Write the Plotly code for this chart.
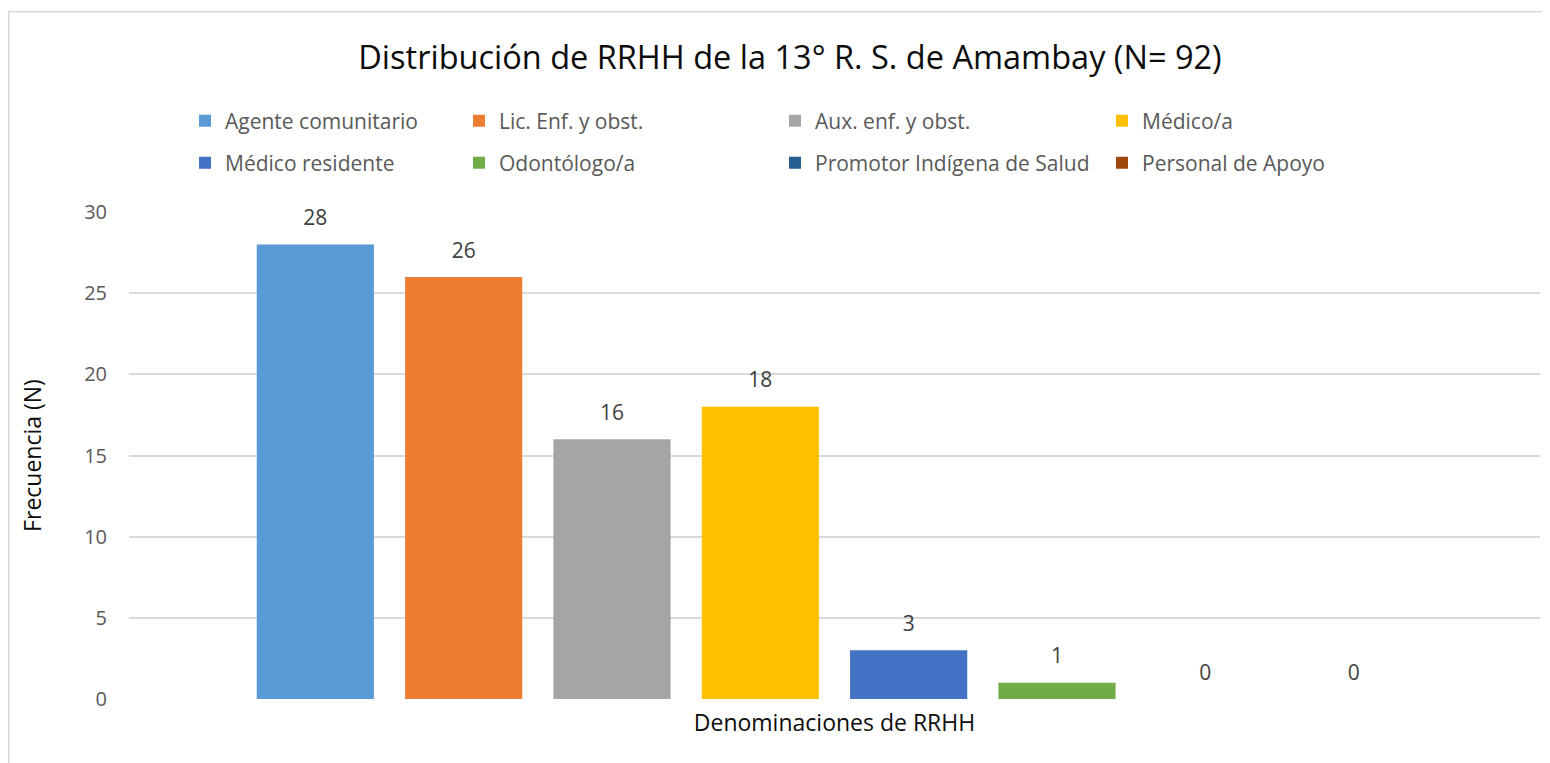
import plotly.graph_objects as go

# ---- data ----
series_names = ["Agente comunitario", "Lic. Enf. y obst.", "Aux. enf. y obst.", "Médico/a",
                "Médico residente", "Odontólogo/a", "Promotor Indígena de Salud", "Personal de Apoyo"]
series_values = [28, 26, 16, 18, 3, 1, 0, 0]
series_colors = ["#5B9BD5", "#ED7D31", "#A5A5A5", "#FFC000",
                 "#4472C4", "#70AD47", "#255E91", "#9E480E"]
category = ["Denominaciones de RRHH"]
y_ticks = [0, 5, 10, 15, 20, 25, 30]
legend_widths = [229, 271, 282, 220]

title_text = "Distribución de RRHH de la 13° R. S. de Amambay (N= 92)"
x_title = "Denominaciones de RRHH"
y_title = "Frecuencia (N)"

FONT = "Open Sans"
OFF = 8  # page body margin
W, H = 1550 - OFF, 763 - OFF
# plot area in page pixels: x 129..1540, y 212..699
ML = 129 - OFF
MR = W - (1540 - OFF)
MT = 212 - OFF
MB = H - (699 - OFF)

fig = go.Figure()
for i, (name, val, col) in enumerate(zip(series_names, series_values, series_colors)):
    fig.add_trace(go.Bar(
        x=category, y=[val], name=name,
        marker=dict(color=col, line=dict(width=0)),
        legend="legend" if i < 4 else "legend2",
        legendwidth=legend_widths[i % 4],
        hoverinfo="name+y",
    ))
for i, (name, val) in enumerate(zip(series_names, series_values)):
    fig.add_trace(go.Scatter(
        x=category, y=[val], mode="markers+text", text=[str(val)],
        textposition="top center",
        textfont=dict(family=FONT, size=21, color="#404040"),
        marker=dict(size=21, color="rgba(0,0,0,0)"),
        showlegend=False, hoverinfo="skip", cliponaxis=False,
    ))

pw = W - ML - MR
ph = H - MT - MB


def px_x(page_px):
    return (page_px - OFF - ML) / pw


def px_y(page_py):
    return (H - MB - (page_py - OFF)) / ph


leg_font = dict(family=FONT, size=21, color="#595959")
fig.update_layout(
    width=W, height=H,
    margin=dict(l=ML, r=MR, t=MT, b=MB, autoexpand=False),
    paper_bgcolor="white", plot_bgcolor="white",
    font=dict(family=FONT, color="#595959"),
    barmode="group", bargap=0.159, bargroupgap=0.21,
    scattermode="group",
    title=dict(text=title_text, x=(790 - OFF) / W, xanchor="center", xref="container",
               y=1 - (58 - OFF) / H, yanchor="middle",
               font=dict(family=FONT, size=32.5, color="#0d0d0d")),
    legend=dict(orientation="h", x=px_x(185), xanchor="left", y=px_y(121), yanchor="middle",
                font=leg_font, bgcolor="rgba(0,0,0,0)",
                itemclick=False, itemdoubleclick=False),
    legend2=dict(orientation="h", x=px_x(185), xanchor="left", y=px_y(163), yanchor="middle",
                 font=leg_font, bgcolor="rgba(0,0,0,0)",
                 itemclick=False, itemdoubleclick=False),
    xaxis=dict(showticklabels=False, showgrid=False, zeroline=False, showline=False, ticks="",
               title=dict(text=x_title, standoff=15, font=dict(family=FONT, size=23, color="#0d0d0d")),
               automargin=False, fixedrange=True),
    yaxis=dict(range=[0, 30], tickvals=y_ticks, showgrid=True, gridcolor="#d9d9d9", gridwidth=1.6,
               zeroline=False, showline=False, ticks="", ticklabelstandoff=21,
               tickfont=dict(family=FONT, size=20, color="#595959"),
               title=dict(text=y_title, standoff=36, font=dict(family=FONT, size=23, color="#0d0d0d")),
               automargin=False, fixedrange=True),
    shapes=[
        dict(type="line", xref="paper", yref="paper", x0=px_x(8.7), x1=px_x(8.7), y0=px_y(11), y1=px_y(800),
             line=dict(color="#d9d9d9", width=1.6), layer="below"),
        dict(type="line", xref="paper", yref="paper", x0=px_x(8), x1=px_x(1560), y0=px_y(11.7), y1=px_y(11.7),
             line=dict(color="#d9d9d9", width=1.6), layer="below"),
    ],
    showlegend=True,
)

fig.write_html("out.html")
